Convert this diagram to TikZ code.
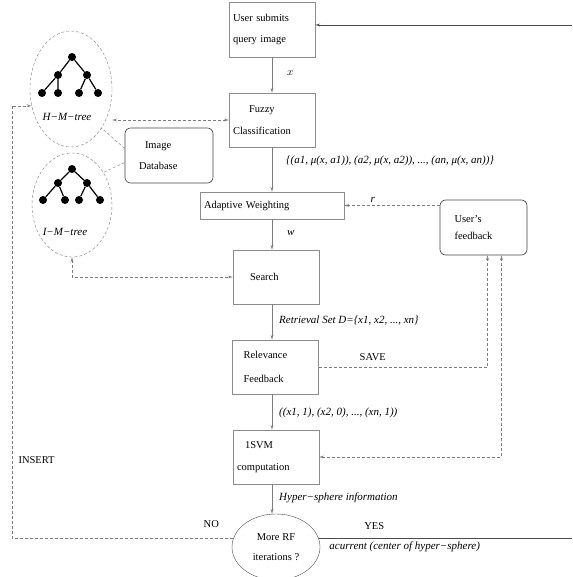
\documentclass[tikz,border=0pt]{standalone}
\usepackage{fontspec}
\setmainfont{Liberation Serif}
\usetikzlibrary{shapes.geometric, arrows.meta}
\definecolor{line-gray}{RGB}{125,125,125}
\definecolor{box-gray}{RGB}{140,140,140}

\begin{document}
\begin{tikzpicture}
    [x=1pt, y=-1pt,
    font=\fontsize{10.5}{12.5}\selectfont,
    >={Stealth[open, length=5pt, width=3pt]},
    box/.style = {rectangle, draw=box-gray, align=left, text width=78pt,
            inner xsep=4pt, minimum height=54pt},
    rbox/.style = {box, draw=black!75, semithick, rounded corners=0.2cm},
    flow/.style = {draw=line-gray, ->},
    dsh/.style = {draw=line-gray, dash pattern=on 3pt off 2pt},
    lbl/.style = {font=\fontsize{11}{13}\selectfont\itshape, inner sep=1pt},
    dot/.style = {circle, fill=black, inner sep=0pt, minimum size=8pt},
    tree/.style = {ellipse, dsh},
    ]

\useasboundingbox (0,0) rectangle (572,577);

% main chain
\node[box, minimum height=55pt] (user) at (272,29.5) {User submits\\[8pt]query image};
\node[box] (fuzzy) at (272,120) {\hspace{16pt}Fuzzy\\[9pt]Classification};
\node[box, text width=136pt, minimum height=27pt] (adapt) at (272,205.5) {Adaptive Weighting};
\node[box] (search) at (276,277) {\hspace{13pt}Search};
\node[box] (relev) at (275.5,367) {\hspace{7pt}Relevance\\[11pt]\hspace{7pt}Feedback};
\node[box] (svm) at (276,457) {\hspace{8pt}1SVM\\[9pt]computation};
\node[ellipse, draw=black!70, align=center, inner sep=1pt,
    minimum width=88pt, minimum height=66pt] (more) at (276,547) {More RF\\[8pt]iterations ?};

% side boxes
\node[rbox, text width=58pt, minimum width=87pt, minimum height=55pt] (fb) at (483.5,227.5) {User’s\\[4pt]feedback};
\node[rbox, text width=60pt, minimum width=88pt, minimum height=55pt] (db) at (169,155.5) {\hspace{6pt}Image\\[9pt]Database};

% the two trees
\node[tree, minimum width=82pt, minimum height=116pt] (htree) at (71,89) {};
\node[tree, minimum width=80pt, minimum height=104pt] (itree) at (72,205) {};
\node[lbl] (hname) at (67,117) {H−M−tree};
\node[lbl] (iname) at (65,232) {I−M−tree};

\node[dot] (h0) at (72,57) {};
\node[dot] (h1) at (58,75) {};
\node[dot] (h2) at (87,75) {};
\node[dot] (h11) at (42,93) {};
\node[dot] (h12) at (58,93) {};
\node[dot] (h21) at (79,93) {};
\node[dot] (h22) at (98,93) {};
\draw[line width=1.2pt] (h0) -- (h1) (h0) -- (h2) (h1) -- (h11) (h1) -- (h12) (h2) -- (h21) (h2) -- (h22);

\node[dot] (i0) at (72,169) {};
\node[dot] (i1) at (58,183) {};
\node[dot] (i2) at (87,183) {};
\node[dot] (i11) at (43,200) {};
\node[dot] (i12) at (65,200) {};
\node[dot] (i21) at (79,200) {};
\node[dot] (i22) at (100,200) {};
\draw[line width=1.2pt] (i0) -- (i1) (i0) -- (i2) (i1) -- (i11) (i1) -- (i12) (i2) -- (i21) (i2) -- (i22);

% flow down the middle
\draw[flow] (user.south) -- (user.south |- fuzzy.north)
    node[lbl, anchor=west, pos=0.45, xshift=14pt] {$x$};
\draw[flow] (fuzzy.south) -- (fuzzy.south |- adapt.north)
    node[lbl, anchor=west, pos=0.3, xshift=13pt] {\{(a1, μ(x, a1)), (a2, μ(x, a2)), ..., (an, μ(x, an))\}};
\draw[flow] (adapt.south) -- (adapt.south |- search.north)
    node[lbl, anchor=west, pos=0.45, xshift=14pt] {w};
\draw[flow] (adapt.south |- search.south) -- (adapt.south |- relev.north)
    node[lbl, anchor=west, pos=0.47, xshift=6pt] {Retrieval Set D=\{x1, x2, ..., xn\}};
\draw[flow] (adapt.south |- relev.south) -- (adapt.south |- svm.north)
    node[lbl, anchor=west, pos=0.53, xshift=6pt] {((x1, 1), (x2, 0), ..., (xn, 1))};
\draw[flow] (adapt.south |- svm.south) -- (adapt.south |- more.north)
    node[lbl, anchor=west, pos=0.47, xshift=6pt] {Hyper−sphere information};

% loops on the right
\coordinate (qin) at (572,25);
\coordinate (yout) at (572,538);
\draw[draw=black!70, ->] (qin) -- (qin -| user.east);
\draw[draw=black!70] (more.12) -- (more.12 -| yout)
    node[pos=0.22, above=5pt] {YES}
    node[lbl, pos=0.34, below=3pt] {acurrent (center of hyper−sphere)};

\draw[dsh, ->] (fb.west |- adapt.east) -- (adapt.east)
    node[lbl, pos=0.7, above=2pt] {r};
\draw[dsh, ->] (relev.east) -| ([xshift=4pt]fb.south)
    node[pos=0.16, above=3pt] {SAVE};
\draw[dsh, <->] ([xshift=18pt]fb.south) |- (svm.east);

% database links
\draw[dsh, <->] (fuzzy.west) -- (fuzzy.west -| htree.east);
\draw[dsh, <->] (itree.south) |- (search.west);
\draw[dsh] ([yshift=7pt]db.west) -- (htree.-52);
\draw[dsh] ([yshift=-7pt]db.west) -- (itree.46);

% insert path
\coordinate (ins) at (12,300);
\draw[dsh, ->] (more.168) -| (ins |- htree.203)
    node[pos=0.05, above=7pt] {NO}
    node[pos=0.59, anchor=west, xshift=3pt] {INSERT}
    -- (htree.203);

\end{tikzpicture}
\end{document}
